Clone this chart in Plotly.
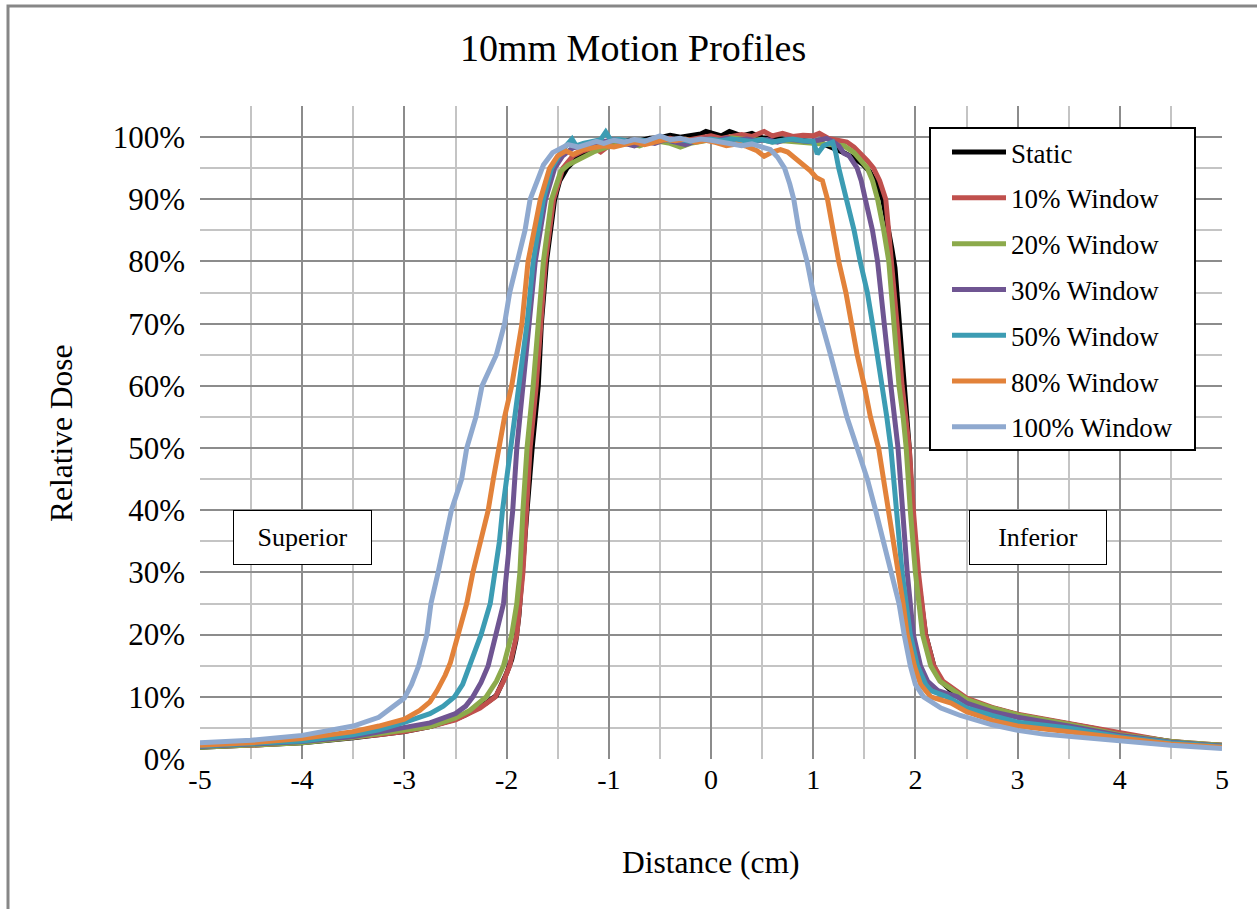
import plotly.graph_objects as go

# ---------------- data ----------------
series_names = ["Static", "10% Window", "20% Window", "30% Window",
                "50% Window", "80% Window", "100% Window"]
series_colors = ["#000000", "#C0504D", "#8CAA4B", "#6F5592",
                 "#3C9CB3", "#E2823A", "#8FA9CF"]

static_x = [-5, -4.5, -4, -3.5, -3.25, -3, -2.75, -2.5, -2.4, -2.3, -2.2, -2.1, -2.05, -2.0, -1.95, -1.91, -1.88,
            -1.85, -1.8, -1.75, -1.69, -1.66, -1.61, -1.57, -1.53, -1.48, -1.41, -1.3, -1.2, -1.1, -1.0, -0.9,
            -0.8, -0.7, -0.6, -0.5, -0.4, -0.3, -0.2, -0.1, -0.05, 0.0, 0.1, 0.18, 0.25, 0.3, 0.4, 0.5, 0.6,
            0.7, 0.8, 0.9, 1.0, 1.1, 1.2, 1.3, 1.4, 1.48, 1.55, 1.62, 1.68, 1.73, 1.77, 1.8, 1.84, 1.89, 1.94,
            1.97, 2.02, 2.1, 2.18, 2.25, 2.35, 2.5, 2.75, 3.0, 3.25, 3.5, 3.75, 4.0, 4.25, 4.5, 4.75, 5.0]
static_y = [1.9, 2.2, 2.6, 3.4, 3.8, 4.4, 5.2, 6.4, 7.1, 8.0, 9.0, 10.2, 11.8, 13.8, 16.0, 19.0, 23.0,
            30.0, 40.0, 50.0, 60.0, 70.0, 80.0, 85.0, 90.0, 93.0, 95.0, 96.8, 97.8, 98.4, 98.8, 99.3,
            99.5, 99.4, 99.8, 99.9, 100.3, 100.0, 100.2, 100.5, 100.9, 100.6, 100.2, 100.9, 100.4, 100.2, 100.6, 99.9, 99.8,
            99.7, 99.6, 99.4, 99.3, 98.9, 98.3, 97.5, 96.6, 95.7, 94.5, 92.5, 90.0, 86.0, 82.0, 79.0, 70.0, 60.0, 50.0,
            40.0, 30.0, 20.0, 15.0, 12.5, 11.0, 9.6, 8.2, 7.1, 6.4, 5.6, 4.9, 4.0, 3.3, 2.8, 2.4, 2.2]

w10_x = [-5, -4.5, -4, -3.5, -3.25, -3, -2.75, -2.5, -2.26, -2.11, -2.03, -1.97, -1.9, -1.84, -1.77, -1.71,
         -1.67, -1.62, -1.54, -1.45, -1.35, -1.25, -1.15, -1.08, -1.0, -0.9, -0.8, -0.7, -0.6, -0.5, -0.4,
         -0.3, -0.2, -0.1, 0.0, 0.1, 0.2, 0.3, 0.4, 0.52, 0.6, 0.7, 0.8, 0.9, 1.0, 1.06, 1.15, 1.25, 1.33,
         1.4, 1.46, 1.53, 1.59, 1.65, 1.71, 1.74, 1.77, 1.82, 1.87, 1.94, 1.98, 2.03, 2.1, 2.18, 2.27, 2.39,
         2.5, 2.75, 3.0, 3.5, 4.0, 4.5, 5.0]
w10_y = [2.0, 2.2, 2.7, 3.4, 3.9, 4.4, 5.2, 6.3, 8.2, 10.0, 12.5, 15.0, 20.0, 30.0, 50.0, 60.0,
         70.0, 80.0, 90.0, 95.0, 97.0, 97.8, 98.3, 97.6, 98.6, 99.2, 99.3, 98.9, 99.5, 99.6, 99.8,
         99.3, 99.6, 99.9, 100.2, 99.8, 100.2, 100.4, 100.1, 100.9, 100.2, 100.6, 100.1, 100.3, 100.2, 100.6, 99.8, 99.5, 99.2,
         98.4, 97.5, 96.2, 95.0, 93.0, 90.0, 85.0, 80.0, 70.0, 60.0, 50.0, 40.0, 30.0, 20.0, 15.0, 12.5, 11.2,
         9.8, 8.3, 7.2, 5.7, 4.2, 2.8, 2.2]

w20_x = [-5, -4.5, -4, -3.5, -3.25, -3, -2.75, -2.5, -2.36, -2.2, -2.1, -2.03, -1.95, -1.9, -1.87, -1.84,
         -1.8, -1.74, -1.69, -1.64, -1.56, -1.47, -1.4, -1.3, -1.23, -1.15, -1.02, -0.9, -0.8, -0.7, -0.6,
         -0.5, -0.4, -0.3, -0.2, -0.1, 0.0, 0.1, 0.2, 0.3, 0.4, 0.5, 0.6, 0.7, 0.8, 0.9, 1.0, 1.1, 1.2,
         1.3, 1.4, 1.48, 1.53, 1.58, 1.63, 1.69, 1.74, 1.79, 1.84, 1.88, 1.91, 1.95, 2.0, 2.07, 2.15, 2.24,
         2.4, 2.5, 2.75, 3.0, 3.5, 4.0, 4.5, 5.0]
w20_y = [1.9, 2.2, 2.6, 3.5, 4.0, 4.5, 5.2, 6.6, 7.8, 10.0, 12.5, 15.0, 20.0, 25.0, 30.0, 40.0,
         50.0, 60.0, 70.0, 80.0, 90.0, 94.5, 95.5, 96.3, 96.8, 97.6, 98.4, 98.8, 99.0, 98.6, 99.2,
         99.3, 99.0, 98.4, 99.0, 99.3, 99.6, 99.4, 99.9, 99.7, 99.5, 99.6, 99.2, 99.4, 99.3, 99.1, 99.0, 99.0, 98.8,
         98.6, 97.5, 96.0, 95.0, 93.0, 90.0, 85.0, 80.0, 70.0, 60.0, 55.0, 50.0, 40.0, 30.0, 20.0, 15.0, 12.5,
         10.8, 9.6, 8.2, 7.1, 5.6, 3.9, 2.8, 2.2]

w30_x = [-5, -4.5, -4, -3.5, -3.25, -3, -2.75, -2.5, -2.4, -2.33, -2.25, -2.18, -2.1, -2.03, -2.0, -1.94,
         -1.9, -1.84, -1.77, -1.72, -1.62, -1.53, -1.45, -1.35, -1.25, -1.15, -1.05, -0.95, -0.85, -0.75,
         -0.65, -0.55, -0.45, -0.35, -0.25, -0.15, -0.05, 0.05, 0.15, 0.25, 0.35, 0.45, 0.55, 0.65, 0.75,
         0.85, 0.95, 1.05, 1.13, 1.2, 1.25, 1.3, 1.35, 1.43, 1.47, 1.51, 1.58, 1.63, 1.69, 1.76, 1.83, 1.87,
         1.92, 1.98, 2.05, 2.12, 2.22, 2.41, 2.5, 2.75, 3.0, 3.5, 4.0, 4.5, 5.0]
w30_y = [2.0, 2.3, 2.8, 3.6, 4.3, 5.0, 5.8, 7.3, 8.5, 10.0, 12.3, 15.0, 20.0, 25.0, 30.0, 40.0,
         50.0, 60.0, 70.0, 80.0, 90.0, 95.0, 97.0, 98.3, 98.6, 99.0, 99.3, 99.6, 99.0, 98.6,
         99.3, 99.0, 99.6, 99.2, 98.8, 99.4, 99.7, 99.4, 99.8, 99.5, 99.7, 99.4, 99.6, 99.2, 99.7,
         99.5, 99.3, 99.5, 99.8, 99.2, 98.6, 97.4, 97.0, 95.0, 93.0, 90.0, 85.0, 80.0, 70.0, 60.0, 50.0, 40.0,
         30.0, 20.0, 15.0, 12.5, 11.0, 10.0, 9.0, 7.6, 6.7, 5.3, 3.8, 2.7, 2.1]

w50_x = [-5, -4.5, -4, -3.5, -3.25, -3, -2.75, -2.62, -2.51, -2.43, -2.36, -2.3, -2.25, -2.16, -2.11, -2.07,
         -2.04, -2.0, -1.97, -1.89, -1.8, -1.74, -1.64, -1.56, -1.45, -1.36, -1.32, -1.25, -1.15, -1.08,
         -1.03, -0.98, -0.9, -0.8, -0.7, -0.6, -0.5, -0.4, -0.3, -0.2, -0.1, 0.0, 0.1, 0.2, 0.3, 0.4, 0.5,
         0.6, 0.7, 0.8, 0.9, 1.0, 1.04, 1.1, 1.19, 1.22, 1.25, 1.33, 1.4, 1.46, 1.53, 1.58, 1.63, 1.68,
         1.72, 1.76, 1.82, 1.87, 1.95, 2.02, 2.1, 2.15, 2.31, 2.5, 2.75, 3.0, 3.5, 4.0, 4.5, 5.0]
w50_y = [2.1, 2.4, 2.9, 3.9, 4.7, 5.9, 7.3, 8.5, 10.0, 12.0, 15.0, 17.5, 20.0, 25.0, 30.0, 35.0,
         40.0, 45.0, 50.0, 60.0, 70.0, 80.0, 90.0, 95.0, 98.0, 99.7, 98.6, 99.0, 99.3, 99.6,
         100.8, 99.5, 99.6, 99.3, 99.5, 99.4, 99.8, 99.4, 99.6, 99.3, 99.5, 99.7, 99.4, 99.7, 99.5, 99.3, 99.6,
         99.2, 99.5, 99.7, 99.4, 99.3, 97.3, 98.6, 99.2, 97.5, 95.0, 90.0, 85.0, 80.0, 75.0, 70.0, 65.0, 60.0,
         55.0, 50.0, 40.0, 30.0, 20.0, 15.0, 12.0, 11.0, 10.0, 8.2, 7.0, 5.9, 5.0, 3.6, 2.6, 2.0]

w80_x = [-5, -4.5, -4, -3.5, -3.25, -3, -2.85, -2.75, -2.68, -2.6, -2.55, -2.47, -2.39, -2.33, -2.26, -2.18,
         -2.13, -2.08, -2.02, -1.95, -1.9, -1.85, -1.79, -1.73, -1.67, -1.58, -1.5, -1.42, -1.35, -1.25,
         -1.15, -1.05, -0.95, -0.85, -0.75, -0.65, -0.55, -0.45, -0.35, -0.25, -0.15, -0.05, 0.05, 0.15,
         0.25, 0.35, 0.45, 0.52, 0.6, 0.68, 0.75, 0.83, 0.9, 0.97, 1.03, 1.09, 1.14, 1.19, 1.25, 1.32, 1.37,
         1.43, 1.5, 1.56, 1.64, 1.69, 1.74, 1.79, 1.84, 1.88, 1.92, 1.99, 2.05, 2.15, 2.35, 2.5, 2.75, 3.0,
         3.5, 4.0, 4.5, 5.0]
w80_y = [2.2, 2.6, 3.3, 4.4, 5.3, 6.4, 7.8, 9.2, 11.0, 13.5, 15.5, 20.0, 25.0, 30.0, 35.0, 40.0,
         45.0, 50.0, 55.0, 60.0, 65.0, 70.0, 80.0, 85.0, 90.0, 95.0, 97.0, 97.8, 97.2, 98.0,
         98.3, 98.6, 98.4, 98.9, 99.2, 98.8, 99.3, 99.6, 99.4, 99.7, 99.2, 99.5, 99.1, 98.6,
         98.9, 98.5, 97.8, 96.9, 97.6, 98.0, 97.6, 96.5, 95.8, 94.6, 93.5, 93.0, 90.0, 85.0, 80.0, 75.0, 70.0,
         65.0, 60.0, 55.0, 50.0, 45.0, 40.0, 35.0, 30.0, 25.0, 20.0, 15.0, 12.0, 10.0, 9.0, 7.6, 6.2, 5.3,
         4.4, 3.5, 2.4, 1.9]

w100_x = [-5, -4.5, -4, -3.5, -3.25, -3.13, -3.0, -2.93, -2.86, -2.78, -2.74, -2.67, -2.6, -2.54, -2.44, -2.39,
          -2.3, -2.24, -2.1, -2.02, -1.97, -1.89, -1.82, -1.77, -1.7, -1.64, -1.55, -1.48, -1.4, -1.3, -1.2,
          -1.12, -1.05, -0.95, -0.85, -0.75, -0.65, -0.55, -0.5, -0.4, -0.3, -0.2, -0.1, 0.0, 0.1, 0.2, 0.3,
          0.4, 0.5, 0.58, 0.65, 0.72, 0.77, 0.81, 0.86, 0.94, 1.0, 1.09, 1.17, 1.25, 1.33, 1.43, 1.53, 1.61,
          1.69, 1.77, 1.84, 1.89, 1.95, 2.0, 2.08, 2.25, 2.44, 2.75, 3.0, 3.25, 3.5, 4.0, 4.5, 5.0]
w100_y = [2.6, 3.0, 3.8, 5.3, 6.7, 8.2, 9.8, 12.0, 15.0, 20.0, 25.0, 30.0, 35.0, 40.0, 45.0, 50.0,
          55.0, 60.0, 65.0, 70.0, 75.0, 80.0, 85.0, 90.0, 93.0, 95.5, 97.5, 98.2, 98.8, 98.4, 99.0,
          99.3, 99.0, 99.5, 99.2, 99.6, 99.3, 99.8, 100.2, 99.6, 99.8, 99.4, 99.7, 99.5, 99.2, 98.8, 98.6,
          98.9, 98.4, 98.0, 96.8, 95.0, 92.5, 90.0, 85.0, 80.0, 75.0, 70.0, 65.0, 60.0, 55.0, 50.0, 45.0, 40.0,
          35.0, 30.0, 25.0, 20.0, 15.0, 12.0, 10.0, 8.2, 7.0, 5.5, 4.6, 4.0, 3.6, 2.9, 2.2, 1.7]

series_x = [static_x, w10_x, w20_x, w30_x, w50_x, w80_x, w100_x]
series_y = [static_y, w10_y, w20_y, w30_y, w50_y, w80_y, w100_y]

x_tick_vals = [-5, -4, -3, -2, -1, 0, 1, 2, 3, 4, 5]
y_tick_vals = [0, 10, 20, 30, 40, 50, 60, 70, 80, 90, 100]

# ---------------- layout geometry ----------------
W, H = 1257, 909
ML, MR, MT, MB = 200, 35, 106, 150
PW = W - ML - MR
PH = H - MT - MB


def pxx(px):
    return (px - ML) / PW


def pxy(py):
    return (H - MB - py) / PH


FONT = "Liberation Serif"

fig = go.Figure()
for i, (name, col, xs, ys) in enumerate(zip(series_names, series_colors, series_x, series_y)):
    fig.add_trace(go.Scatter(
        x=xs, y=ys, mode="lines", name=name,
        line=dict(color=col, width=5),
        legendgroup=f"g{i}",
    ))

fig.update_layout(
    width=W, height=H,
    margin=dict(l=ML, r=MR, t=MT, b=MB),
    paper_bgcolor="white", plot_bgcolor="white",
    font=dict(family=FONT, color="black", size=26),
    showlegend=True,
    legend=dict(
        x=pxx(930), y=pxy(128), xanchor="left", yanchor="top",
        borderwidth=0, bgcolor="rgba(0,0,0,0)",
        font=dict(family=FONT, size=27, color="black"),
        tracegroupgap=7.7, itemwidth=54, indentation=17,
    ),
    xaxis=dict(
        range=[-5, 5], tickmode="array", tickvals=x_tick_vals,
        ticktext=[str(v) for v in x_tick_vals],
        showgrid=True, gridcolor="#8C8C8C", gridwidth=2,
        minor=dict(dtick=0.5, showgrid=True, gridcolor="#C4C4C4", gridwidth=2),
        zeroline=False, showline=False, ticks="",
        tickfont=dict(family=FONT, size=28, color="black"),
        ticklabelstandoff=1,
    ),
    yaxis=dict(
        range=[0, 105], tickmode="array", tickvals=y_tick_vals,
        ticktext=[f"{v}%" for v in y_tick_vals],
        showgrid=True, gridcolor="#8C8C8C", gridwidth=2,
        minor=dict(tick0=0, dtick=5, showgrid=True, gridcolor="#C4C4C4", gridwidth=2),
        zeroline=False, showline=False, ticks="",
        tickfont=dict(family=FONT, size=31, color="black"),
        ticklabelstandoff=14,
    ),
)

annotations = [
    dict(text="10mm Motion Profiles", x=pxx(633), y=pxy(48), xref="paper", yref="paper",
         showarrow=False, xanchor="center", yanchor="middle",
         font=dict(family=FONT, size=38, color="black")),
    dict(text="Distance (cm)", x=pxx(711), y=pxy(862), xref="paper", yref="paper",
         showarrow=False, xanchor="center", yanchor="middle",
         font=dict(family=FONT, size=31.5, color="black")),
    dict(text="Relative Dose", x=pxx(62), y=pxy(433), xref="paper", yref="paper",
         showarrow=False, xanchor="center", yanchor="middle", textangle=-90,
         font=dict(family=FONT, size=31.5, color="black")),
    dict(text="Superior", x=-4.0, y=35.6, xref="x", yref="y", showarrow=False,
         xanchor="center", yanchor="middle", width=117, height=33, borderpad=10,
         bordercolor="black", borderwidth=1, bgcolor="white",
         font=dict(family=FONT, size=26, color="black")),
    dict(text="Inferior", x=3.2, y=35.6, xref="x", yref="y", showarrow=False,
         xanchor="center", yanchor="middle", width=116, height=33, borderpad=10,
         bordercolor="black", borderwidth=1, bgcolor="white",
         font=dict(family=FONT, size=26, color="black")),
]
fig.update_layout(annotations=annotations)

# outer chart-area border (only its left and top edges are inside the picture)
fig.add_shape(type="rect", xref="paper", yref="paper",
              x0=pxx(8), y0=pxy(930), x1=pxx(1280), y1=pxy(6),
              line=dict(color="#878787", width=3), fillcolor="rgba(0,0,0,0)", layer="below")
# legend frame (white box with black border behind the legend entries)
fig.add_shape(type="rect", xref="paper", yref="paper",
              x0=pxx(930), y0=pxy(450), x1=pxx(1195), y1=pxy(128),
              line=dict(color="black", width=2), fillcolor="white", layer="above")

fig.write_html("out.html")
